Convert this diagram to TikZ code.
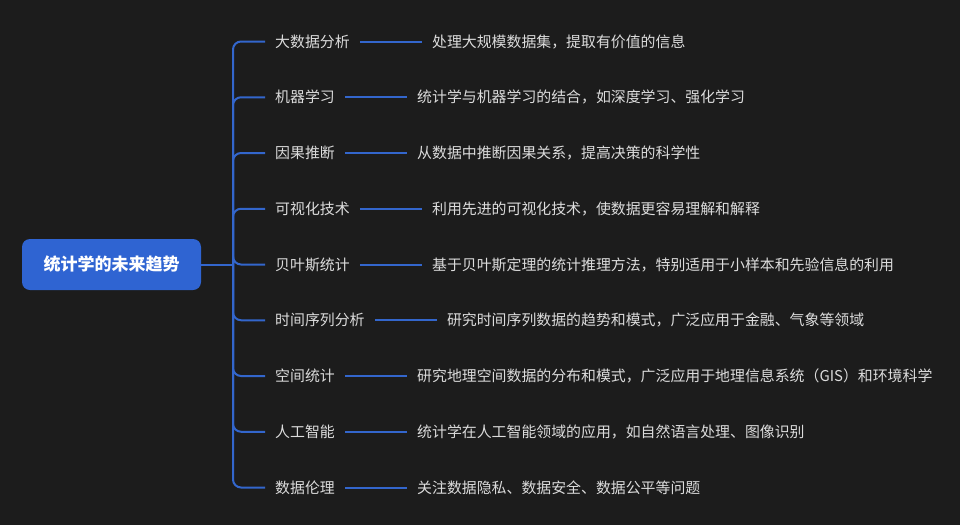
\documentclass[tikz,border=0pt]{standalone}
\usepackage{fontspec}
\setmainfont{Noto Sans CJK SC}
\usetikzlibrary{positioning}
\definecolor{bgdark}{HTML}{1C1C1C}
\definecolor{rootblue}{HTML}{2F64D2}
\definecolor{linkblue}{HTML}{3366CC}
\definecolor{txtgrey}{HTML}{DCDCDC}

\begin{document}
\begin{tikzpicture}[x=1pt,y=-1pt,node distance=62pt,
    topic/.style={text=txtgrey,font=\fontsize{14.9}{17}\selectfont,inner xsep=10pt,inner ysep=0pt,anchor=west},
    detail/.style={text=txtgrey,font=\fontsize{14.9}{17}\selectfont,inner xsep=10pt,inner ysep=0pt},
    link/.style={linkblue,line width=2pt}]
      \fill[bgdark] (0,0) rectangle (960,525);
      \useasboundingbox (0,0) rectangle (960,525);
      \node[fill=rootblue,rounded corners=8pt,minimum width=179pt,minimum height=51pt,text=white,
        font=\bfseries\fontsize{17}{20}\selectfont] (root) at (111.5,264.5) {统计学的未来趋势};
      \coordinate (hub) at (233,264.5);
      \node[topic] (t1) at (265,41.5) {大数据分析};
      \node[topic] (t2) at (265,97.25) {机器学习};
      \node[topic] (t3) at (265,153) {因果推断};
      \node[topic] (t4) at (265,208.75) {可视化技术};
      \node[topic] (t5) at (265,264.5) {贝叶斯统计};
      \node[topic] (t6) at (265,320.25) {时间序列分析};
      \node[topic] (t7) at (265,376) {空间统计};
      \node[topic] (t8) at (265,431.75) {人工智能};
      \node[topic] (t9) at (265,487.5) {数据伦理};
      \node[detail,right=of t1] (d1) {处理大规模数据集，提取有价值的信息};
      \node[detail,right=of t2] (d2) {统计学与机器学习的结合，如深度学习、强化学习};
      \node[detail,right=of t3] (d3) {从数据中推断因果关系，提高决策的科学性};
      \node[detail,right=of t4] (d4) {利用先进的可视化技术，使数据更容易理解和解释};
      \node[detail,right=of t5] (d5) {基于贝叶斯定理的统计推理方法，特别适用于小样本和先验信息的利用};
      \node[detail,right=of t6] (d6) {研究时间序列数据的趋势和模式，广泛应用于金融、气象等领域};
      \node[detail,right=of t7] (d7) {研究地理空间数据的分布和模式，广泛应用于地理信息系统（GIS）和环境科学};
      \node[detail,right=of t8] (d8) {统计学在人工智能领域的应用，如自然语言处理、图像识别};
      \node[detail,right=of t9] (d9) {关注数据隐私、数据安全、数据公平等问题};
      \draw[link] (root.east) -- (hub);
      \foreach \n in {1,...,9}
        \draw[link,rounded corners=8pt] (hub) |- (t\n.west);
      \foreach \n in {1,...,9}
        \draw[link] (t\n.east) -- (d\n.west);
\end{tikzpicture}
\end{document}
